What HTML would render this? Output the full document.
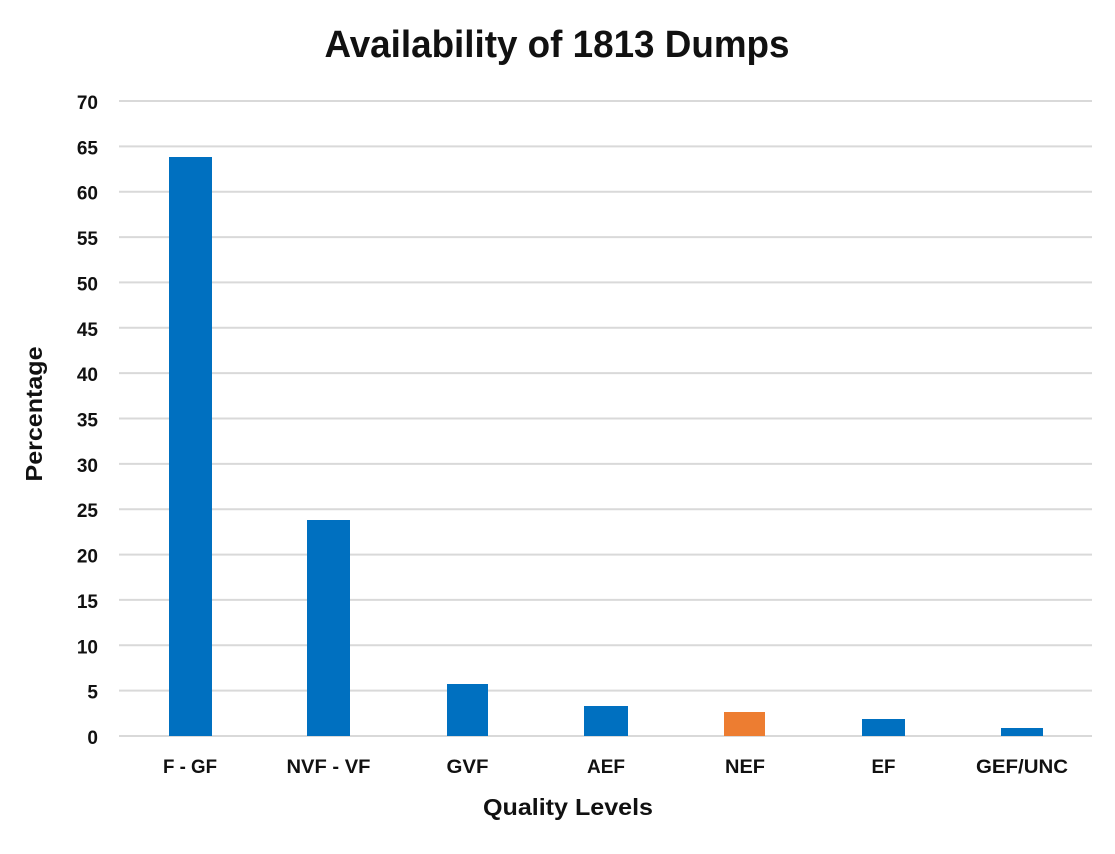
<!DOCTYPE html>
<html><head><meta charset="utf-8"><style>
html,body{margin:0;padding:0;background:#fff;}
svg{display:block;}
text{font-family:"Liberation Sans",Arial,sans-serif;font-weight:bold;fill:#111;}
</style></head><body>
<svg width="1115" height="854" viewBox="0 0 1115 854" xmlns="http://www.w3.org/2000/svg">
<rect width="1115" height="854" fill="#fff"/>
<text x="557" y="57" font-size="38" text-anchor="middle" textLength="465" lengthAdjust="spacingAndGlyphs">Availability  of 1813 Dumps</text>
<g stroke="#d9d9d9" stroke-width="2">
<line x1="119" x2="1092" y1="101" y2="101"/>
<line x1="119" x2="1092" y1="146.4" y2="146.4"/>
<line x1="119" x2="1092" y1="191.7" y2="191.7"/>
<line x1="119" x2="1092" y1="237.1" y2="237.1"/>
<line x1="119" x2="1092" y1="282.4" y2="282.4"/>
<line x1="119" x2="1092" y1="327.8" y2="327.8"/>
<line x1="119" x2="1092" y1="373.1" y2="373.1"/>
<line x1="119" x2="1092" y1="418.5" y2="418.5"/>
<line x1="119" x2="1092" y1="463.9" y2="463.9"/>
<line x1="119" x2="1092" y1="509.2" y2="509.2"/>
<line x1="119" x2="1092" y1="554.6" y2="554.6"/>
<line x1="119" x2="1092" y1="599.9" y2="599.9"/>
<line x1="119" x2="1092" y1="645.3" y2="645.3"/>
<line x1="119" x2="1092" y1="690.6" y2="690.6"/>
<line x1="119" x2="1092" y1="736" y2="736"/>
</g>
<g font-size="19" text-anchor="end">
<text x="98" y="109">70</text>
<text x="98" y="154.4">65</text>
<text x="98" y="199.7">60</text>
<text x="98" y="245.1">55</text>
<text x="98" y="290.4">50</text>
<text x="98" y="335.8">45</text>
<text x="98" y="381.1">40</text>
<text x="98" y="426.5">35</text>
<text x="98" y="471.9">30</text>
<text x="98" y="517.2">25</text>
<text x="98" y="562.6">20</text>
<text x="98" y="607.9">15</text>
<text x="98" y="653.3">10</text>
<text x="98" y="698.6">5</text>
<text x="98" y="744">0</text>
</g>
<g fill="#0070C0">
<rect x="169" y="157" width="43" height="579"/>
<rect x="307" y="520" width="43" height="216"/>
<rect x="447" y="684" width="41" height="52"/>
<rect x="584" y="706" width="44" height="30"/>
<rect x="862" y="719" width="43" height="17"/>
<rect x="1001" y="728" width="42" height="8"/>
</g>
<rect x="724" y="712" width="41" height="24" fill="#ED7D31"/>
<g font-size="19" text-anchor="middle">
<text x="190" y="773" textLength="54" lengthAdjust="spacingAndGlyphs">F - GF</text>
<text x="328.5" y="773" textLength="84" lengthAdjust="spacingAndGlyphs">NVF - VF</text>
<text x="467.5" y="773" textLength="42" lengthAdjust="spacingAndGlyphs">GVF</text>
<text x="606" y="773" textLength="38" lengthAdjust="spacingAndGlyphs">AEF</text>
<text x="745" y="773" textLength="40" lengthAdjust="spacingAndGlyphs">NEF</text>
<text x="883.5" y="773" textLength="24" lengthAdjust="spacingAndGlyphs">EF</text>
<text x="1022" y="773" textLength="92" lengthAdjust="spacingAndGlyphs">GEF/UNC</text>
</g>
<text x="568" y="815" font-size="23" text-anchor="middle" textLength="170" lengthAdjust="spacingAndGlyphs">Quality Levels</text>
<text transform="translate(42,414) rotate(-90)" font-size="23" text-anchor="middle" textLength="135" lengthAdjust="spacingAndGlyphs">Percentage</text>
</svg>
</body></html>
